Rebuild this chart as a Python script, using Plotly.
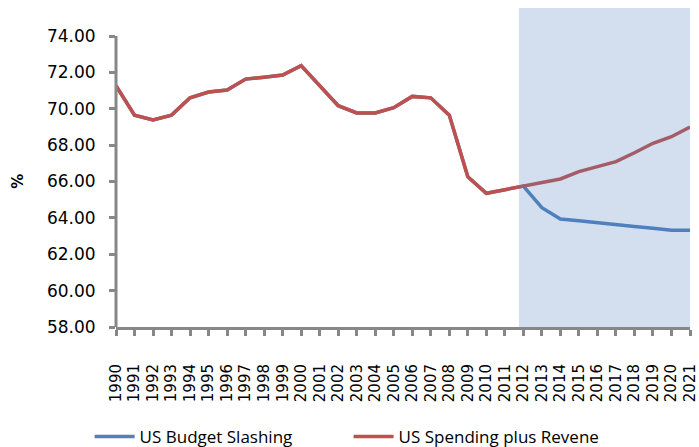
import plotly.graph_objects as go

years = list(range(1990, 2022))
spending_plus_revenue = [71.27, 69.65, 69.38, 69.65, 70.60, 70.92, 71.03, 71.63, 71.73, 71.85,
                         72.37, 71.30, 70.17, 69.77, 69.77, 70.06, 70.68, 70.60, 69.65, 66.26,
                         65.35, 65.55, 65.75, 65.95, 66.14, 66.54, 66.81, 67.09, 67.58, 68.10,
                         68.46, 69.00]
budget_slashing = [71.27, 69.65, 69.38, 69.65, 70.60, 70.92, 71.03, 71.63, 71.73, 71.85,
                   72.37, 71.30, 70.17, 69.77, 69.77, 70.06, 70.68, 70.60, 69.65, 66.26,
                   65.35, 65.55, 65.75, 64.56, 63.94, 63.84, 63.75, 63.64, 63.53, 63.43,
                   63.32, 63.32]
y_ticks = [58, 60, 62, 64, 66, 68, 70, 72, 74]
y_tick_text = [f"{v:.2f}" for v in y_ticks]
forecast_start = 2011.76
forecast_end = 2021

BLUE = "#4F81BD"
RED = "#C0504D"
GRAY = "#878787"

fig = go.Figure()
fig.add_trace(go.Scatter(x=years, y=budget_slashing, mode="lines", name="US Budget Slashing",
                         line=dict(color=BLUE, width=3.5)))
fig.add_trace(go.Scatter(x=years, y=spending_plus_revenue, mode="lines", name="US Spending plus Revene",
                         line=dict(color=RED, width=3.5)))

y_top = 75.54
fig.add_shape(type="rect", xref="x", yref="y", x0=forecast_start, x1=forecast_end,
              y0=y_ticks[0], y1=y_top, fillcolor="rgba(79,129,189,0.25)", line=dict(width=0),
              layer="above")
# y axis line stopping at top tick
fig.add_shape(type="line", xref="paper", yref="y", x0=0, x1=0, y0=y_ticks[0], y1=y_ticks[-1],
              line=dict(color=GRAY, width=3), layer="above")

fig.add_annotation(text="<b>%</b>", xref="paper", yref="paper", x=-0.171, y=0.458,
                   xanchor="center", yanchor="middle",
                   showarrow=False, textangle=-90, font=dict(size=15, color="black", family="DejaVu Sans"))

fig.update_layout(
    width=699, height=447,
    margin=dict(l=116, r=9, t=8, b=120, autoexpand=False),
    plot_bgcolor="white", paper_bgcolor="white",
    font=dict(family="DejaVu Sans", color="black"),
    showlegend=True,
    legend=dict(orientation="h", x=-0.046, xanchor="left", y=-0.345, yanchor="middle",
                font=dict(family="Open Sans", size=17, color="black"),
                entrywidth=204, entrywidthmode="pixels", itemwidth=40, bgcolor="rgba(0,0,0,0)"),
    xaxis=dict(range=[years[0], years[-1]], tickmode="linear", tick0=1990, dtick=1,
               tickangle=-90, ticks="outside", ticklen=6, tickwidth=2.5, tickcolor=GRAY,
               showline=True, linecolor=GRAY, linewidth=3, showgrid=False, zeroline=False,
               automargin=False,
               tickfont=dict(size=15, family="DejaVu Sans"), ticklabelstandoff=22),
    yaxis=dict(range=[y_ticks[0], y_top], tickmode="array", tickvals=y_ticks, ticktext=y_tick_text,
               ticks="outside", ticklen=6, tickwidth=2.5, tickcolor=GRAY,
               showline=False, showgrid=False, zeroline=False, automargin=False,
               tickfont=dict(size=17, family="DejaVu Sans"), ticklabelstandoff=10),
)

fig.write_html("out.html", config={"displayModeBar": False},
               post_script="document.body.style.margin='0';document.body.style.overflow='hidden';")
